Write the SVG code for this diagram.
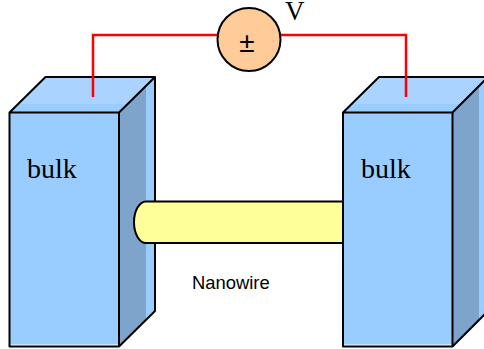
<svg xmlns="http://www.w3.org/2000/svg" width="484" height="349" viewBox="0 0 484 349">
<style>
.face{fill:#99ccff}
.top{fill:#aad4ff}
.dark{fill:#7ea4cc}
.edge{fill:none;stroke:#000;stroke-width:2;stroke-linejoin:round}
.wire{fill:none;stroke:#ff0000;stroke-width:2.500}
.serif{font-family:"Liberation Serif","Times New Roman",serif;fill:#000}
.sans{font-family:"Liberation Sans",Arial,sans-serif;fill:#000}
</style>
<rect width="484" height="349" fill="#fff"/>
<g id="bulk-left">
<path class="face" d="M9.500 112.500 L45.500 77 H155 V311 L119 346.500 V344.500 H9.500 Z"/>
<path class="top" d="M18 104 L45.500 77 H155 L128 104 Z"/>
<path class="dark" d="M119 112.500 L146 86 V319.500 L119 346.500 Z"/>
<path class="edge" d="M9.500 112.500 H119 V346.500 H9.500 Z M9.500 112.500 L45.500 77 H155 L119 112.500 M155 77 V311 L119 346.500"/>
<text class="serif" x="27" y="178" font-size="28">bulk</text>
</g>
<g id="bulk-right">
<path class="face" d="M343 112.500 L379 77 H488 V311 L452.500 346.500 V344.500 H343 Z"/>
<path class="top" d="M351.500 104 L379 77 H488 L461 104 Z"/>
<path class="dark" d="M452.500 112.500 L479 86 V319.500 L452.500 346.500 Z"/>
<path class="edge" d="M343 112.500 H452.500 V346.500 H343 Z M343 112.500 L379 77 H488 L452.500 112.500 M488 77 V311 L452.500 346.500"/>
<text class="serif" x="361" y="178" font-size="28">bulk</text>
</g>
<g id="nanowire">
<path d="M343 201.500 H146 A12 20.750 0 0 0 146 243 H343 Z" fill="#ffff99" stroke="#000" stroke-width="2"/>
<text class="sans" x="192" y="288.500" font-size="18.400">Nanowire</text>
</g>
<g id="connectors">
<path class="wire" d="M93 97 V35 H217"/>
<path class="wire" d="M281 35 H406 V97"/>
</g>
<g id="source">
<circle cx="249" cy="39.500" r="31.500" fill="#ffcc99" stroke="#000" stroke-width="2"/>
<text class="sans" x="247" y="52" font-size="28" text-anchor="middle">±</text>
<text class="serif" x="285" y="20" font-size="27">V</text>
</g>
</svg>
